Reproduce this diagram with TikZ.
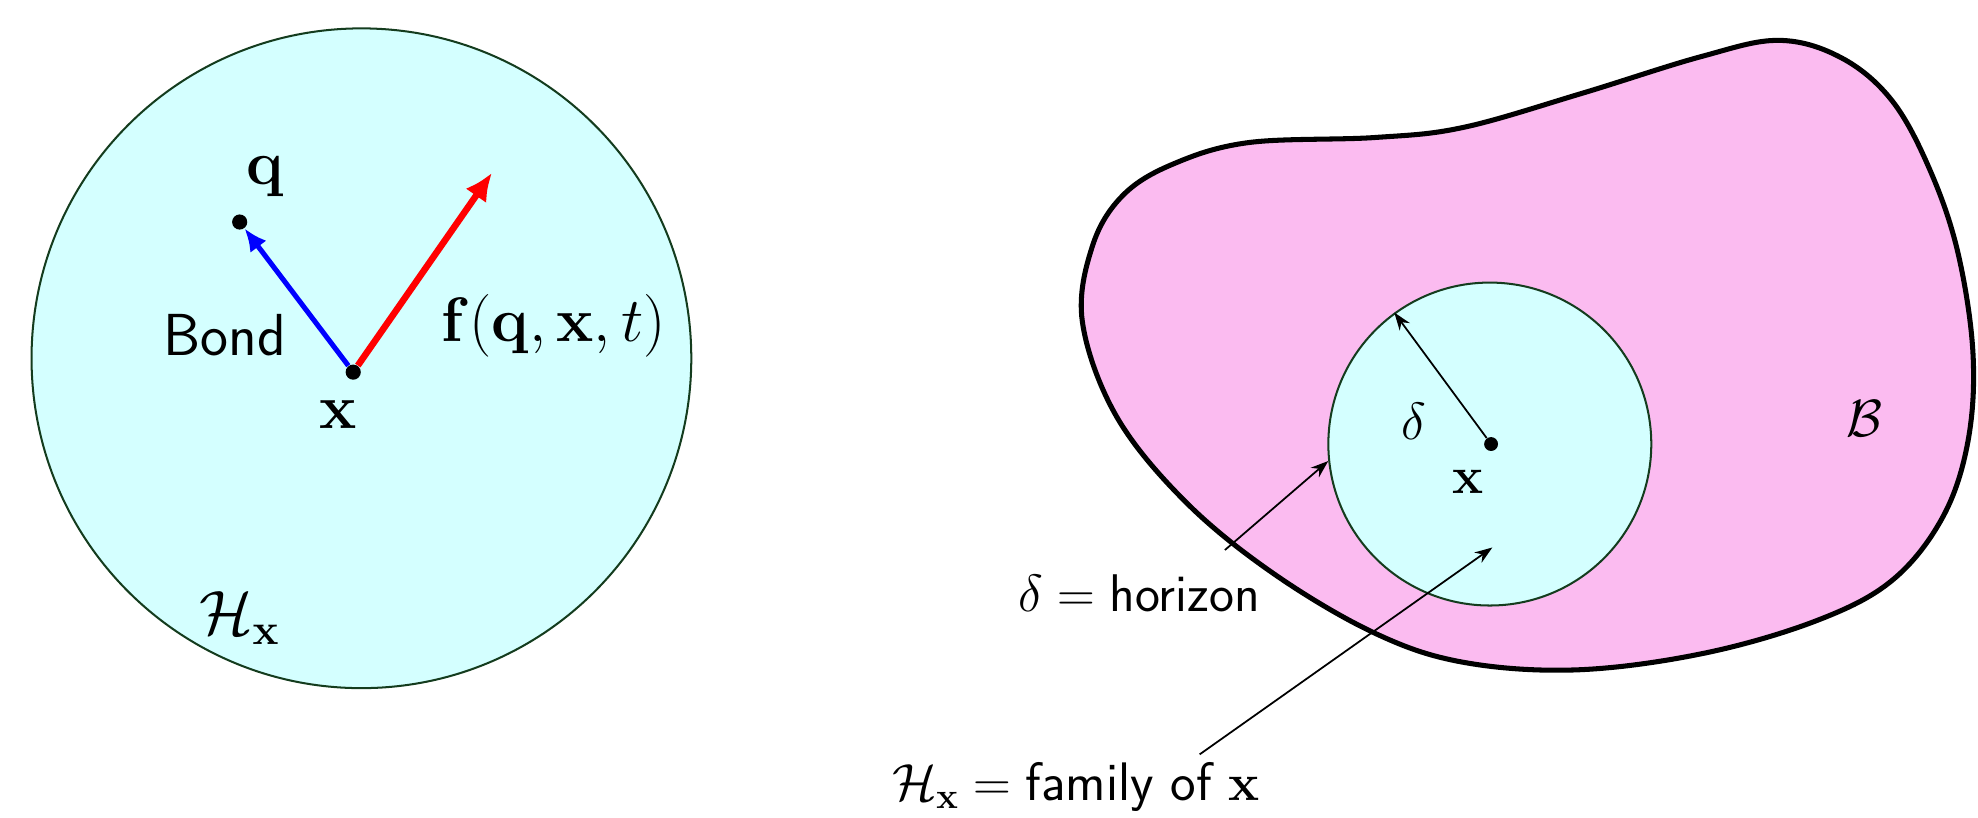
\documentclass[tikz,border=0pt]{standalone}
\usepackage{amsmath}
\usetikzlibrary{arrows.meta}
\definecolor{cyanfill}{RGB}{212,255,255}
\definecolor{pinkfill}{RGB}{251,187,240}
\definecolor{rimgreen}{RGB}{20,60,30}
\begin{document}
\begin{tikzpicture}[x=0.5pt,y=-0.5pt,
  lbl/.style={inner sep=0pt, font=\fontsize{21}{25}\selectfont},
  biglbl/.style={inner sep=0pt, font=\fontsize{23.5}{28}\selectfont},
  dot/.style={circle, fill=black, inner sep=0pt, minimum size=6pt},
  region/.style={circle, draw=rimgreen, fill=cyanfill, line width=0.8pt, inner sep=0pt},
  thinarrow/.style={-{Stealth[length=7pt,width=5pt]}, line width=0.7pt},
  bondarrow/.style={-{Latex[length=9pt,width=8pt]}, blue, line width=2pt},
  forcearrow/.style={-{Latex[length=11pt,width=10pt]}, red, line width=2.6pt},
  body/.style={line width=2pt, draw=black, fill=pinkfill}]
\useasboundingbox (0,0) rectangle (1568,648);

% ---------- left: family of x ----------
\node[region, minimum size=261.5pt] (H1) at (286.5,284) {};
\node[dot] (x1) at (280,295) {};
\node[dot] (q1) at (190,176) {};
\coordinate (ftip) at (390,137);
\draw[bondarrow] (x1) -- (q1);
\draw[forcearrow] (x1) -- (ftip);
\node[biglbl] (qlab) at (210,140) {$\mathbf{q}$};
\node[biglbl] (bond) at (178,266) {\sffamily Bond};
\node[biglbl] (xlab1) at (268,329) {$\mathbf{x}$};
\node[biglbl] (flab) at (439,258) {$\mathbf{f}(\mathbf{q},\mathbf{x},t)$};
\node[biglbl] (Hlab) at (190,490) {$\mathcal{H}_{\mathbf{x}}$};

% ---------- right: body B ----------
\draw[body] plot[smooth cycle, tension=0.6] coordinates {
 (858,255) (866,195) (890,155) (930,130) (990,113) (1090,109) (1160,101)
 (1254,74) (1348,45) (1410,32) (1460,46) (1500,80) (1530,135) (1552,200)
 (1564,280) (1560,350) (1540,410) (1500,460) (1440,492) (1350,518)
 (1250,531) (1160,525) (1090,502) (1010,455) (940,398) (885,330)};
\node[region, minimum size=128pt] (H2) at (1181,352) {};
\node[dot, minimum size=5.5pt] (x2) at (1182,352) {};
\draw[thinarrow] (x2) -- (H2.126);
\node[lbl] (dlab) at (1121,334) {$\delta$};
\node[lbl] (xlab2) at (1164,382) {$\mathbf{x}$};
\node[lbl] (Blab) at (1478,332) {$\mathcal{B}$};

\coordinate (hs) at (971,436);
\draw[thinarrow] (hs) -- (H2.186);
\node[lbl] (hor) at (903,470) {$\delta = \text{\sffamily horizon}$};

\coordinate (fs) at (951,598);
\coordinate (ft) at (1183,434);
\draw[thinarrow] (fs) -- (ft);
\node[lbl, font=\fontsize{21.5}{26}\selectfont] (fam) at (853,624) {$\mathcal{H}_{\mathbf{x}} = \text{\sffamily family of }\mathbf{x}$};
\end{tikzpicture}
\end{document}
